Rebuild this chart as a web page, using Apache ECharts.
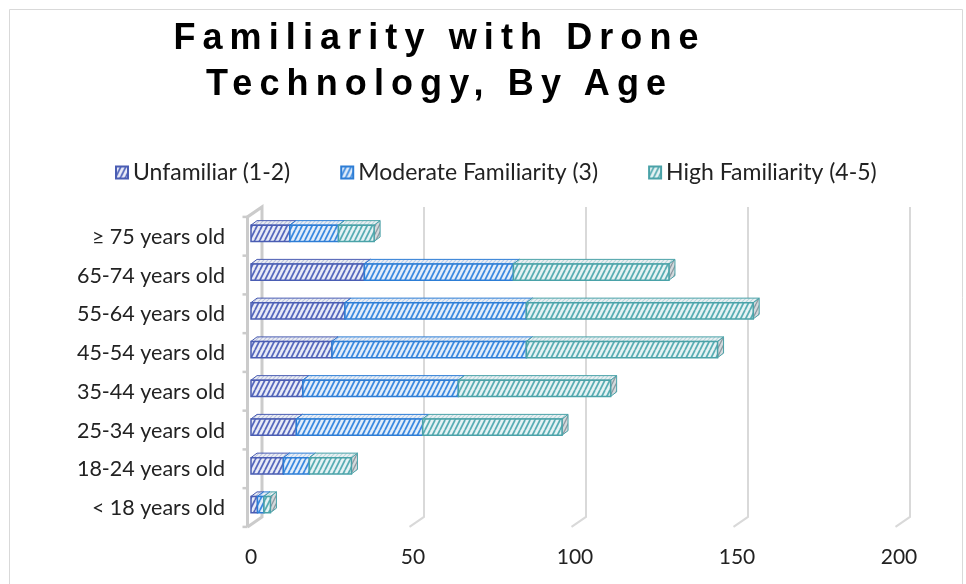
<!DOCTYPE html>
<html>
<head>
<meta charset="utf-8">
<script src="https://cdn.jsdelivr.net/npm/echarts@6/dist/echarts.min.js"></script>
<style>
  html, body { margin: 0; padding: 0; background: #fff; }
  #wrap { position: relative; width: 966px; height: 584px; overflow: hidden; }
  #chart { position: absolute; left: 0; top: 0; width: 966px; height: 584px; }
  #title {
    position: absolute; left: 36px; top: 14px; width: 800px; z-index: 2;
    text-align: center; color: #000;
    font: bold 36px "Liberation Sans", Arial, sans-serif;
    letter-spacing: 7.1px; line-height: 46px;
    padding-left: 7.1px; box-sizing: border-box;
  }
</style>
</head>
<body>
<div id="wrap">
  <div id="chart"></div>
  <div id="title">Familiarity with Drone<br>Technology, By Age</div>
</div>
<script>
// Age groups, bottom to top
const categories = ['< 18 years old', '18-24 years old', '25-34 years old', '35-44 years old',
                    '45-54 years old', '55-64 years old', '65-74 years old', '≥ 75 years old'];
const seriesNames = ['Unfamiliar (1-2)', 'Moderate Familiarity (3)', 'High Familiarity (4-5)'];
const unfamiliar = [2, 10, 14, 16, 25, 29, 35, 12];
const moderate   = [2, 8, 39, 48, 60, 56, 46, 15];
const high       = [2, 13, 43, 47, 59, 70, 48, 11];
const xTicks = [0, 50, 100, 150, 200];

const FONT = 'Lato, "Open Sans", sans-serif';

// colours per series: outline, hatch stripe, hatch background, top face
const palette = [
  { stroke: '#4a5db3', stripe: '#5568bd', bg: '#e9ebf7', top: '#bcc3e0' },
  { stroke: '#2d7dd5', stripe: '#3a89df', bg: '#e4eefa', top: '#b3cff0' },
  { stroke: '#4aa2a8', stripe: '#58adb2', bg: '#e6f3f4', top: '#b8dadc' }
];

// diagonal hatch tile used as a fill pattern
function hatch(bg, stripe, w, h, lw) {
  const c = document.createElement('canvas');
  c.width = w; c.height = h;
  const g = c.getContext('2d');
  g.fillStyle = bg; g.fillRect(0, 0, w, h);
  g.strokeStyle = stripe; g.lineWidth = lw;
  for (const o of [-w, 0, w]) {
    g.beginPath(); g.moveTo(o, h); g.lineTo(o + w, 0); g.stroke();
  }
  return { image: c, repeat: 'repeat' };
}

const frontFill = palette.map(p => hatch(p.bg, p.stripe, 5, 10, 1.8));
const topFill = palette.map(p => hatch('#eef0f4', p.top, 4, 4, 1.2));
const sideFill = palette.map(p => hatch('#d5dadd', '#8e9ba3', 4, 8, 1.4));

// 3D depth offsets (px); the whole plot box sits a little above the label bands
const LIFT = -3.7;
const BAR_DX = 6, BAR_DY = -4.5;               // bar depth
const FRONT_DX = -3.5, FRONT_DY = 3 + LIFT;    // front edge of floor/wall
const BACK_DX = 11, BACK_DY = -7 + LIFT;       // back wall plane

// stacked start/end per series
const values = [unfamiliar, moderate, high];
const stacked = values.map((arr, k) => arr.map((v, i) => {
  let start = 0;
  for (let j = 0; j < k; j++) start += values[j][i];
  return [start, start + v, i];
}));

function makeBarRenderer(k) {
  return function (params, api) {
    const cat = api.value(2);
    const p0 = api.coord([api.value(0), cat]);
    const p1 = api.coord([api.value(1), cat]);
    const h = api.size([0, 1])[1] * 0.42;
    const cy = p0[1] + LIFT;
    const yT = cy - h / 2, yB = cy + h / 2;
    const x0 = p0[0], x1 = p1[0];
    const s = palette[k];
    return {
      type: 'group',
      children: [
        { type: 'polygon',
          shape: { points: [[x1, yT], [x1 + BAR_DX, yT + BAR_DY], [x1 + BAR_DX, yB + BAR_DY], [x1, yB]] },
          style: { fill: sideFill[k], stroke: s.stroke, lineWidth: 1 } },
        { type: 'polygon',
          shape: { points: [[x0, yT], [x0 + BAR_DX, yT + BAR_DY], [x1 + BAR_DX, yT + BAR_DY], [x1, yT]] },
          style: { fill: topFill[k], stroke: s.stroke, lineWidth: 1 } },
        { type: 'rect',
          shape: { x: x0, y: yT, width: x1 - x0, height: h },
          style: { fill: frontFill[k], stroke: s.stroke, lineWidth: 1.5 } }
      ]
    };
  };
}

// back wall gridlines, floor diagonals and the left wall
function renderFrame(params, api) {
  const cs = params.coordSys;
  const v = api.value(0);
  const x = api.coord([v, 0])[0];
  const top = cs.y, bot = cs.y + cs.height;
  if (v === 0) {
    const band = cs.height / categories.length;
    const fx = x + FRONT_DX, bx = x + BACK_DX;
    const kids = [
      { type: 'polyline',
        shape: { points: [[fx, bot + FRONT_DY], [fx, top + FRONT_DY], [bx, top + BACK_DY], [bx, bot + BACK_DY], [fx, bot + FRONT_DY]] },
        style: { stroke: '#cbcbcb', lineWidth: 3, fill: null } }
    ];
    for (let i = 0; i <= categories.length; i++) {
      const y = top + i * band + FRONT_DY;
      kids.push({ type: 'line', shape: { x1: fx - 5, y1: y, x2: fx, y2: y },
                  style: { stroke: '#cbcbcb', lineWidth: 2.5 } });
    }
    return { type: 'group', children: kids };
  }
  return {
    type: 'polyline',
    shape: { points: [[x + BACK_DX, top + BACK_DY], [x + BACK_DX, bot + BACK_DY], [x + FRONT_DX, bot + FRONT_DY]] },
    style: { stroke: '#d9d9d9', lineWidth: 2, fill: null }
  };
}

const chart = echarts.init(document.getElementById('chart'), null, { renderer: 'canvas' });

const series = [{
  type: 'custom',
  name: 'frame',
  silent: true,
  z: 1,
  renderItem: renderFrame,
  encode: { x: 0, y: 1 },
  data: xTicks.map(v => [v, 0])
}];
seriesNames.forEach((name, k) => {
  series.push({
    type: 'custom',
    name: name,
    z: 2 + k,
    renderItem: makeBarRenderer(k),
    encode: { x: [0, 1], y: 2 },
    itemStyle: { color: frontFill[k], borderColor: palette[k].stroke, borderWidth: 1 },
    data: stacked[k]
  });
});

chart.setOption({
  animation: false,
  backgroundColor: '#fff',
  graphic: [{
    type: 'rect', silent: true,
    shape: { x: 9.5, y: 9.5, width: 953, height: 620 },
    style: { fill: null, stroke: '#d9d9d9', lineWidth: 1 }
  }],
  legend: {
    data: seriesNames,
    left: 115, top: 161, padding: 0,
    icon: 'rect', itemWidth: 12, itemHeight: 12, itemGap: 50,
    textStyle: { fontFamily: FONT, fontSize: 23, color: '#222' }
  },
  grid: { left: 251, top: 217.6, width: 648, height: 310, containLabel: false },
  xAxis: {
    type: 'value', min: 0, max: 200, interval: 50,
    axisLine: { show: false }, axisTick: { show: false }, splitLine: { show: false },
    axisLabel: { fontFamily: FONT, fontSize: 21, color: '#222', margin: 19 }
  },
  yAxis: {
    type: 'category', data: categories,
    axisLine: { show: false }, axisTick: { show: false }, splitLine: { show: false },
    axisLabel: { fontFamily: FONT, fontSize: 21.5, color: '#222', margin: 26 }
  },
  series: series
});
</script>
</body>
</html>
